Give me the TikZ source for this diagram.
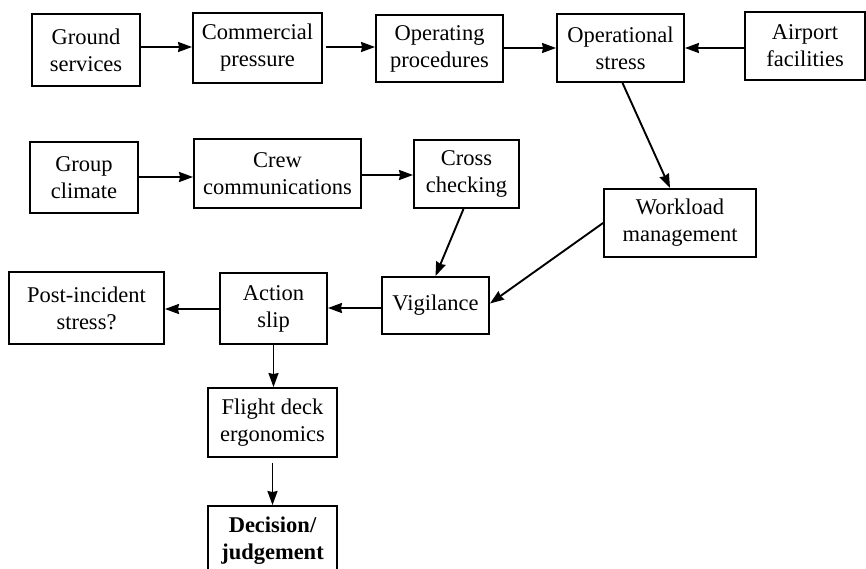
\documentclass[tikz,border=0pt]{standalone}
\usepackage{fontspec}
\setmainfont{Liberation Serif}
\usetikzlibrary{arrows.meta}
\begin{document}
\begin{tikzpicture}[x=1pt,y=-1pt,
  box/.style={draw=black,line width=1.9pt,inner sep=0pt,align=center,
    font=\fontsize{22.5}{27}\selectfont},
  arr/.style={line width=1.9pt,-{Stealth[length=14pt,width=10pt,inset=1pt]}}]
\useasboundingbox (0,0) rectangle (866,569);
\node[box,minimum width=108,minimum height=72] (gs) at (86,50) {Ground\\services};
\node[box,minimum width=129,minimum height=70] (cp) at (257.5,48) {Commercial\\pressure};
\node[box,minimum width=127,minimum height=67] (op) at (439.5,48.5) {Operating\\procedures};
\node[box,minimum width=127,minimum height=68] (os) at (620.5,48) {Operational\\stress};
\node[box,minimum width=120,minimum height=68] (af) at (805,46) {Airport\\facilities};
\node[box,minimum width=108,minimum height=71] (gc) at (84,177.5) {Group\\climate};
\node[box,minimum width=167,minimum height=69] (cc) at (277.5,173.5) {Crew\\communications};
\node[box,minimum width=105,minimum height=68] (ck) at (466.5,174) {Cross\\checking};
\node[box,minimum width=152,minimum height=68] (wm) at (680,223) {Workload\\management};
\node[box,minimum width=107,minimum height=57] (vg) at (435.5,305.5) {Vigilance};
\node[box,minimum width=107,minimum height=71] (as) at (273.5,308.5) {Action\\slip};
\node[box,minimum width=155,minimum height=72] (pi) at (86.5,308) {Post-incident\\stress?};
\node[box,minimum width=129,minimum height=69] (fd) at (272.5,422.5) {Flight deck\\ergonomics};
\node[box,minimum width=129,minimum height=70,font=\fontsize{22.5}{27}\selectfont\bfseries] (dj) at (272.5,541) {Decision/\\judgement};
\draw[arr] (gs.east |- 0,47) -- (cp.west |- 0,47);
\draw[arr,shorten <=3pt] (cp.east |- 0,47) -- (op.west |- 0,47);
\draw[arr] (op.east |- 0,48) -- (os.west |- 0,48);
\draw[arr] (af.west |- 0,48) -- (os.east |- 0,48);
\draw[arr] (gc.east |- 0,177) -- (cc.west |- 0,177);
\draw[arr] (cc.east |- 0,175) -- (ck.west |- 0,175);
\draw[arr] ([xshift=2pt]os.south) -- ([xshift=-10pt]wm.north);
\draw[arr] ([xshift=-3pt]ck.south) -- (vg.north);
\draw[arr] (wm.west) -- ([yshift=2pt]vg.east);
\draw[arr] (vg.west |- 0,308) -- (as.east |- 0,308);
\draw[arr] (as.west |- 0,309) -- (pi.east |- 0,309);
\draw[arr] (as.south) -- (as.south |- fd.north);
\draw[arr,shorten <=5pt] (fd.south) -- (fd.south |- dj.north);
\end{tikzpicture}
\end{document}
